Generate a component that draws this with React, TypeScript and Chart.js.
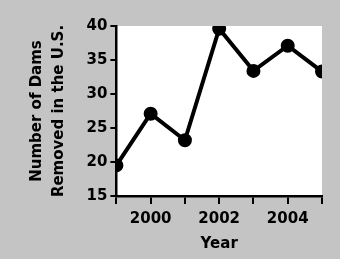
import React, { useEffect, useRef } from "react";
import { Chart, registerables } from "chart.js";

Chart.register(...registerables);

const years: number[] = [1999, 2000, 2001, 2002, 2003, 2004, 2005];
const damsRemoved: number[] = [19.5, 27.1, 23.2, 39.6, 33.4, 37.1, 33.3];
const xLabelYears: number[] = [2000, 2002, 2004];
const yTitle: string[] = ["Number of Dams", "Removed in the U.S."];
const xTitle = "Year";

const FONT = "'DejaVu Sans', sans-serif";

const plotBg = {
  id: "plotBg",
  beforeDraw(chart: any) {
    const { ctx, chartArea } = chart;
    ctx.save();
    ctx.fillStyle = "#c4c4c4";
    ctx.fillRect(0, 0, chart.width, chart.height);
    ctx.fillStyle = "#ffffff";
    ctx.fillRect(chartArea.left, chartArea.top, chartArea.right - chartArea.left, chartArea.bottom - chartArea.top);
    ctx.restore();
  },
};

export default function App() {
  const ref = useRef<HTMLCanvasElement>(null);
  useEffect(() => {
    const chart = new Chart(ref.current!, {
      type: "line",
      data: {
        datasets: [
          {
            data: years.map((y, i) => ({ x: y, y: damsRemoved[i] })),
            borderColor: "#000",
            backgroundColor: "#000",
            borderWidth: 4,
            pointRadius: 5,
            pointBackgroundColor: "#000",
            tension: 0,
          },
        ],
      },
      options: {
        animation: false,
        responsive: false,
        layout: { padding: { top: 26, right: 18, left: 26, bottom: 6 } },
        plugins: { legend: { display: false }, tooltip: { enabled: false } },
        scales: {
          x: {
            type: "linear",
            min: 1999,
            max: 2005,
            ticks: {
              stepSize: 1,
              color: "#000",
              font: { family: FONT, size: 15, weight: "bold" },
              callback: (v: any) => (xLabelYears.includes(Number(v)) ? String(v) : ""),
              maxRotation: 0,
              autoSkip: false,
              padding: 6,
            },
            grid: { drawOnChartArea: false, color: "#000", tickLength: 8, lineWidth: 2 },
            border: { color: "#000", width: 2.5 },
            title: {
              display: true,
              text: xTitle,
              color: "#000",
              font: { family: FONT, size: 15, weight: "bold" },
              padding: { top: 1, bottom: 0 },
            },
          },
          y: {
            min: 15,
            max: 40,
            ticks: {
              stepSize: 5,
              color: "#000",
              font: { family: FONT, size: 15, weight: "bold" },
              padding: 3,
            },
            grid: { drawOnChartArea: false, color: "#000", tickLength: 6, lineWidth: 2 },
            border: { color: "#000", width: 2.5 },
            title: {
              display: true,
              text: yTitle,
              color: "#000",
              font: { family: FONT, size: 15, weight: "bold", lineHeight: 1.45 },
              padding: { top: 0, bottom: 14 },
            },
          },
        },
      },
      plugins: [plotBg],
    });
    return () => chart.destroy();
  }, []);
  return (
    <div style={{ position: "absolute", left: 0, top: 0, width: 340, height: 259 }}>
      <canvas ref={ref} width={340} height={259} />
    </div>
  );
}
